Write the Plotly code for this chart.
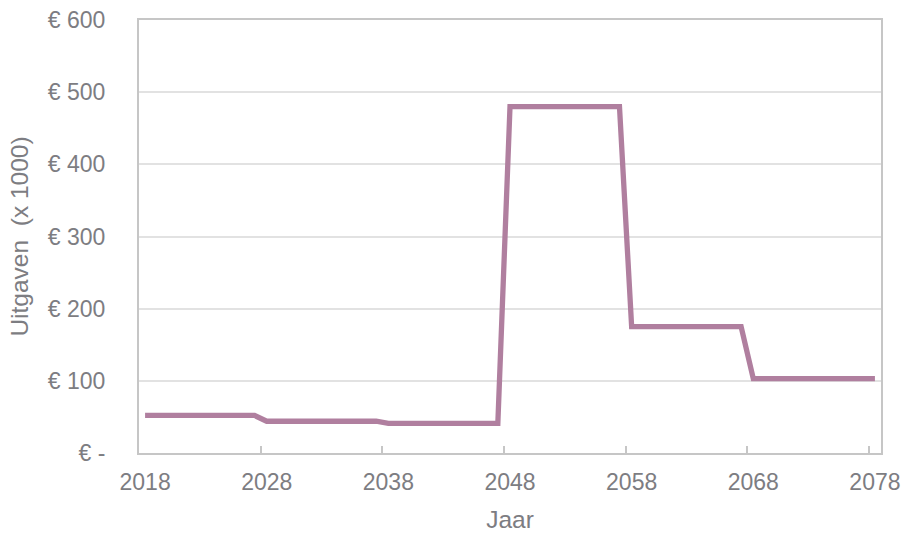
import plotly.graph_objects as go

# Yearly spending (x 1000 euro), 2018-2078
years = list(range(2018, 2079))
spending = [
    52, 52, 52, 52, 52, 52, 52, 52, 52, 52,            # 2018-2027
    44, 44, 44, 44, 44, 44, 44, 44, 44, 44,            # 2028-2037
    41, 41, 41, 41, 41, 41, 41, 41, 41, 41,            # 2038-2047
    480, 480, 480, 480, 480, 480, 480, 480, 480, 480,  # 2048-2057
    175, 175, 175, 175, 175, 175, 175, 175, 175, 175,  # 2058-2067
    103, 103, 103, 103, 103, 103, 103, 103, 103, 103, 103,  # 2068-2078
]

x_tick_years = [2018, 2028, 2038, 2048, 2058, 2068, 2078]
x_boundaries = [2027.5, 2037.5, 2047.5, 2057.5, 2067.5, 2077.5]
y_tick_values = [0, 100, 200, 300, 400, 500, 600]
y_tick_labels = ["€ -", "€ 100", "€ 200", "€ 300", "€ 400", "€ 500", "€ 600"]

LINE_COLOR = "#b07f9f"
TEXT_COLOR = "#7d7d82"
FRAME_COLOR = "#c6c6c6"
GRID_COLOR = "#e2e2e2"
FONT = "Liberation Sans, Arial, sans-serif"

fig = go.Figure(
    go.Scatter(
        x=years,
        y=spending,
        mode="lines",
        line=dict(color=LINE_COLOR, width=5.3),
        hoverinfo="x+y",
    )
)

fig.update_layout(
    width=904,
    height=534,
    margin=dict(l=139, r=23, t=20, b=81),
    paper_bgcolor="white",
    plot_bgcolor="white",
    showlegend=False,
    font=dict(family=FONT, color=TEXT_COLOR, size=23),
)

fig.update_xaxes(
    range=[2017.5, 2078.5],
    tickmode="array",
    tickvals=x_tick_years,
    ticktext=[str(y) for y in x_tick_years],
    ticks="",
    ticklabelstandoff=7,
    tickfont=dict(size=23, color=TEXT_COLOR),
    showgrid=False,
    zeroline=False,
    showline=True,
    linecolor=FRAME_COLOR,
    linewidth=2,
    mirror=True,
    minor=dict(
        tickmode="array",
        tickvals=x_boundaries,
        ticks="inside",
        ticklen=7,
        tickwidth=2,
        tickcolor=FRAME_COLOR,
        showgrid=False,
    ),
    title=dict(text="Jaar", font=dict(size=24.5, color=TEXT_COLOR), standoff=17),
    automargin=False,
)

fig.update_yaxes(
    range=[0, 600],
    tickmode="array",
    tickvals=y_tick_values,
    ticktext=y_tick_labels,
    ticks="",
    ticklabelstandoff=27,
    tickfont=dict(size=23, color=TEXT_COLOR),
    showgrid=True,
    gridcolor=GRID_COLOR,
    gridwidth=2,
    zeroline=False,
    showline=True,
    linecolor=FRAME_COLOR,
    linewidth=2,
    mirror=True,
    title=dict(
        text="Uitgaven\u00a0\u00a0(x 1000)",
        font=dict(size=24.5, color=TEXT_COLOR),
        standoff=12,
    ),
    automargin=False,
)

fig.write_html("out.html")
